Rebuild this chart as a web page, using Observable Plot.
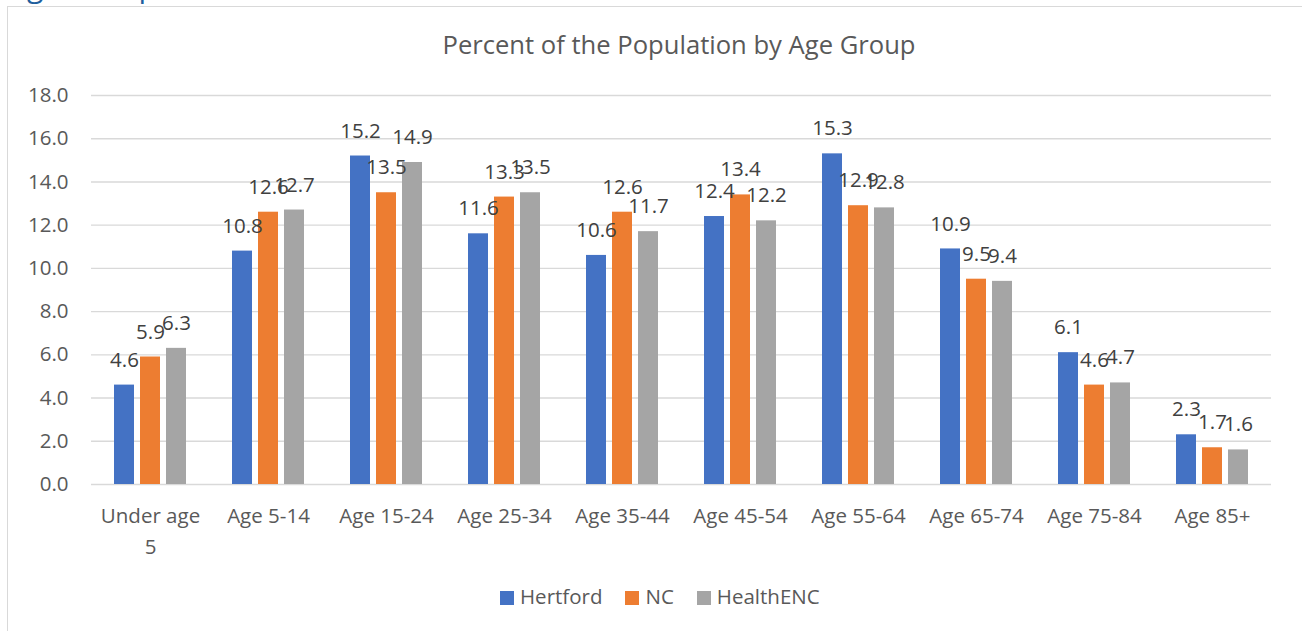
<!DOCTYPE html>
<html>
<head>
<meta charset="utf-8">
<script src="https://cdn.jsdelivr.net/npm/d3@7"></script>
<script src="https://cdn.jsdelivr.net/npm/@observablehq/plot@0.6"></script>
<style>
  html, body { margin: 0; padding: 0; background: #fff; width: 1302px; height: 631px; overflow: hidden; position: relative; font-family: "Open Sans", sans-serif; }
  #frame { position: absolute; left: 7px; top: 6px; width: 1300px; height: 700px; border-left: 1.5px solid #d9d9d9; border-top: 1.5px solid #d9d9d9; box-sizing: border-box; }
  #heading { position: absolute; left: 8px; top: -28.6px; font-size: 30px; line-height: 30px; color: #1f5f9e; white-space: nowrap; }
  #title { position: absolute; left: 379px; width: 600px; top: 32px; font-size: 25.6px; line-height: 25.6px; color: #595959; text-align: center; white-space: nowrap; }
  #chart { position: absolute; left: 0; top: 0; }
  #legend { position: absolute; left: 500px; top: 586px; display: flex; align-items: center; font-size: 20.5px; line-height: 20.5px; color: #595959; white-space: nowrap; }
  #legend .sw { width: 14px; height: 14px; display: inline-block; margin-right: 6px; position: relative; top: 2px; }
  #legend .item { display: flex; align-items: center; margin-right: 23px; }
</style>
</head>
<body>
<div id="frame"></div>
<div id="heading">Age Group</div>
<div id="chart"></div>
<div id="title">Percent of the Population by Age Group</div>
<div id="legend"></div>
<script>
const categories = ["Under age\n5", "Age 5-14", "Age 15-24", "Age 25-34", "Age 35-44", "Age 45-54", "Age 55-64", "Age 65-74", "Age 75-84", "Age 85+"];
const series = ["Hertford", "NC", "HealthENC"];
const hertford  = [4.6, 10.8, 15.2, 11.6, 10.6, 12.4, 15.3, 10.9, 6.1, 2.3];
const nc        = [5.9, 12.6, 13.5, 13.3, 12.6, 13.4, 12.9, 9.5, 4.6, 1.7];
const healthenc = [6.3, 12.7, 14.9, 13.5, 11.7, 12.2, 12.8, 9.4, 4.7, 1.6];
const yTicks = [0, 2, 4, 6, 8, 10, 12, 14, 16, 18];
const colors = ["#4472C4", "#ED7D31", "#A5A5A5"];

const seriesValues = [hertford, nc, healthenc];
const data = categories.flatMap((c, i) => series.map((s, j) => ({category: c, series: s, value: seriesValues[j][i]})));

const chart = Plot.plot({
  width: 1302,
  height: 570,
  marginTop: 95,
  marginLeft: 89,
  marginRight: 29,
  marginBottom: 86,
  style: {fontFamily: "Open Sans", fontSize: "20.5px", color: "#595959", background: "transparent", overflow: "visible"},
  fx: {domain: categories, padding: 0, label: null, axis: null},
  x: {domain: series, paddingInner: 0.22, paddingOuter: 0.87, axis: null},
  y: {domain: [0, 18], label: null, axis: null},
  color: {domain: series, range: colors},
  marks: [
    Plot.gridY(yTicks, {stroke: "#d9d9d9", strokeOpacity: 1, strokeWidth: 1.4}),
    Plot.axisY(yTicks, {tickFormat: d => d.toFixed(1), tickSize: 0, tickPadding: 23, label: null, fill: "#595959"}),
    Plot.axisFx({anchor: "bottom", tickSize: 0, tickPadding: 17, lineHeight: 1.5, label: null, fill: "#595959"}),
    Plot.barY(data, {fx: "category", x: "series", y: "value", fill: "series"}),
    Plot.text(data, {fx: "category", x: "series", y: "value", text: d => d.value.toFixed(1), dy: -25, fill: "#404040"})
  ]
});
document.getElementById("chart").appendChild(chart);

const legend = d3.select("#legend");
series.forEach((s, i) => {
  const item = legend.append("div").attr("class", "item");
  item.append("span").attr("class", "sw").style("background", colors[i]);
  item.append("span").text(s);
});
</script>
</body>
</html>
